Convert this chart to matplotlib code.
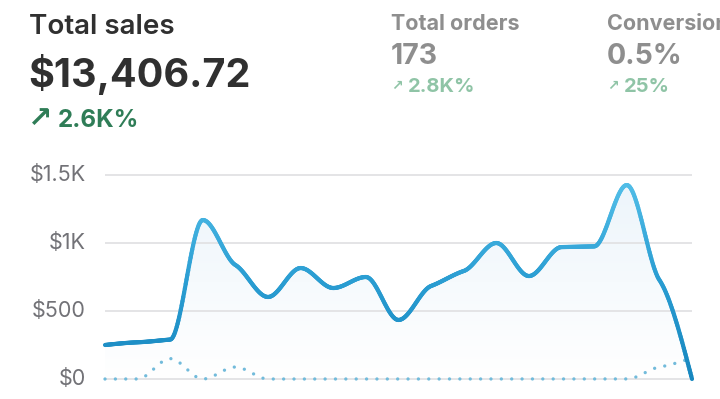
import numpy as np
import matplotlib.pyplot as plt
from matplotlib.collections import LineCollection
from matplotlib.colors import LinearSegmentedColormap
from matplotlib.patches import Polygon

# daily sales (current period) and the comparison period, 19 points
sales = [250, 270, 290, 1169, 838, 603, 816, 669, 750, 434,
         684, 794, 1000, 757, 970, 975, 1426, 728, 0]
prev_sales = [0, 0, 150, 0, 88, 0, 0, 0, 0, 0,
              0, 0, 0, 0, 0, 0, 0, 88, 155]
y_ticks = [0, 500, 1000, 1500]
y_labels = ['$0', '$500', '$1K', '$1.5K']

W, H = 720, 399
FONT = ['Inter', 'DejaVu Sans']


def monotone(y, n=40):
    # soft monotone cubic through points at x = 0..len-1
    y = np.asarray(y, float)
    s = np.diff(y)
    t = np.zeros_like(y)
    for i in range(1, len(y) - 1):
        s0, s1 = s[i - 1], s[i]
        p = (s0 + s1) / 2
        t[i] = 0.5 * (np.sign(s0) + np.sign(s1)) * min(abs(s0), abs(s1), 0.5 * abs(p))
    t[0] = (3 * s[0] - t[1]) / 2
    t[-1] = (3 * s[-1] - t[-2]) / 2
    xs, ys = [], []
    for i in range(len(y) - 1):
        u = np.linspace(0, 1, n, endpoint=False)
        h00 = 2 * u**3 - 3 * u**2 + 1
        h10 = u**3 - 2 * u**2 + u
        h01 = -2 * u**3 + 3 * u**2
        h11 = u**3 - u**2
        xs.append(i + u)
        ys.append(h00 * y[i] + h10 * t[i] + h01 * y[i + 1] + h11 * t[i + 1])
    xs.append([len(y) - 1])
    ys.append([y[-1]])
    return np.concatenate(xs), np.concatenate(ys)


def fy(p):
    return 1 - p / H


fig = plt.figure(figsize=(W / 100, H / 100), dpi=100)

# axes: x index 0 -> px 105, 18 -> px 692 ; $0 -> px 379, $1.5K -> px 175
px_per = (379 - 175) / 1500
top_px, bot_px = 165, 392
ax = fig.add_axes([105 / W, fy(bot_px), (692 - 105) / W, (bot_px - top_px) / H])
ax.set_xlim(0, len(sales) - 1)
ax.set_ylim(-(bot_px - 379) / px_per, (379 - top_px) / px_per)
ax.axis('off')

for v in y_ticks:
    ax.axhline(v, color='#e2e2e4', lw=1.3, zorder=1)

for v, lab in zip(y_ticks, y_labels):
    fig.text(86 / W, fy(379 - v * px_per), lab, ha='right', va='center',
             fontsize=15.5, weight='normal', color='#727277', family=FONT)

xs, ys = monotone(sales)

# soft gradient fill under the line
cmap_fill = LinearSegmentedColormap.from_list('f', ['#ffffff', '#edf5fb'])
grad = np.linspace(0, 1, 256).reshape(-1, 1)
im = ax.imshow(grad, aspect='auto', cmap=cmap_fill, origin='lower',
               extent=[0, len(sales) - 1, 0, max(sales)], zorder=0)
poly = Polygon(np.column_stack([np.r_[xs, xs[-1], xs[0]], np.r_[ys, 0, 0]]),
               closed=True, transform=ax.transData, fc='none', ec='none')
ax.add_patch(poly)
im.set_clip_path(poly)

# comparison period, dotted
pxs, pys = monotone(prev_sales)
ax.plot(pxs, pys, color='#72bbdb', lw=2.4, ls=(0, (0.01, 3.1)),
        dash_capstyle='round', zorder=2, clip_on=False)

# main line with vertical colour gradient
cmap_line = LinearSegmentedColormap.from_list('l', ['#1787bf', '#2a9dd2', '#52bee8'])
pts = np.column_stack([xs, ys]).reshape(-1, 1, 2)
segs = np.concatenate([pts[:-1], pts[1:]], axis=1)
lc = LineCollection(segs, cmap=cmap_line, norm=plt.Normalize(0, 1450),
                    lw=3.0, capstyle='round', joinstyle='round', zorder=3)
lc.set_array((ys[:-1] + ys[1:]) / 2)
lc.set_clip_on(False)
ax.add_collection(lc)

# header KPIs
fig.text(29 / W, fy(34), 'Total sales', fontsize=20, weight='semibold',
         color='#303030', family=FONT, va='baseline')
fig.text(28 / W, fy(87), '$13,406.72', fontsize=28.5, weight='bold',
         color='#303030', family=FONT, va='baseline')
fig.text(28 / W, fy(127), '\u2197', fontsize=21, weight='bold',
         color='#2f7d57', family=['DejaVu Sans'], va='baseline')
fig.text(58 / W, fy(127), '2.6K%', fontsize=17.5, weight='bold',
         color='#2f7d57', family=FONT, va='baseline')

for x0, title, val, delta in [(391, 'Total orders', '173', '2.8K%'),
                              (607, 'Conversion', '0.5%', '25%')]:
    fig.text(x0 / W, fy(30), title, fontsize=15.5, weight='bold',
             color='#8e8e8e', family=FONT, va='baseline')
    fig.text(x0 / W, fy(64), val, fontsize=20.5, weight='bold',
             color='#8e8e8e', family=FONT, va='baseline')
    fig.text(x0 / W, fy(90), '\u2197', fontsize=10, weight='bold',
             color='#8fc4a6', family=['DejaVu Sans'], va='baseline')
    fig.text((x0 + 17) / W, fy(92), delta, fontsize=14.5, weight='bold',
             color='#8fc4a6', family=FONT, va='baseline')

fig.savefig('out.png', dpi=100)
